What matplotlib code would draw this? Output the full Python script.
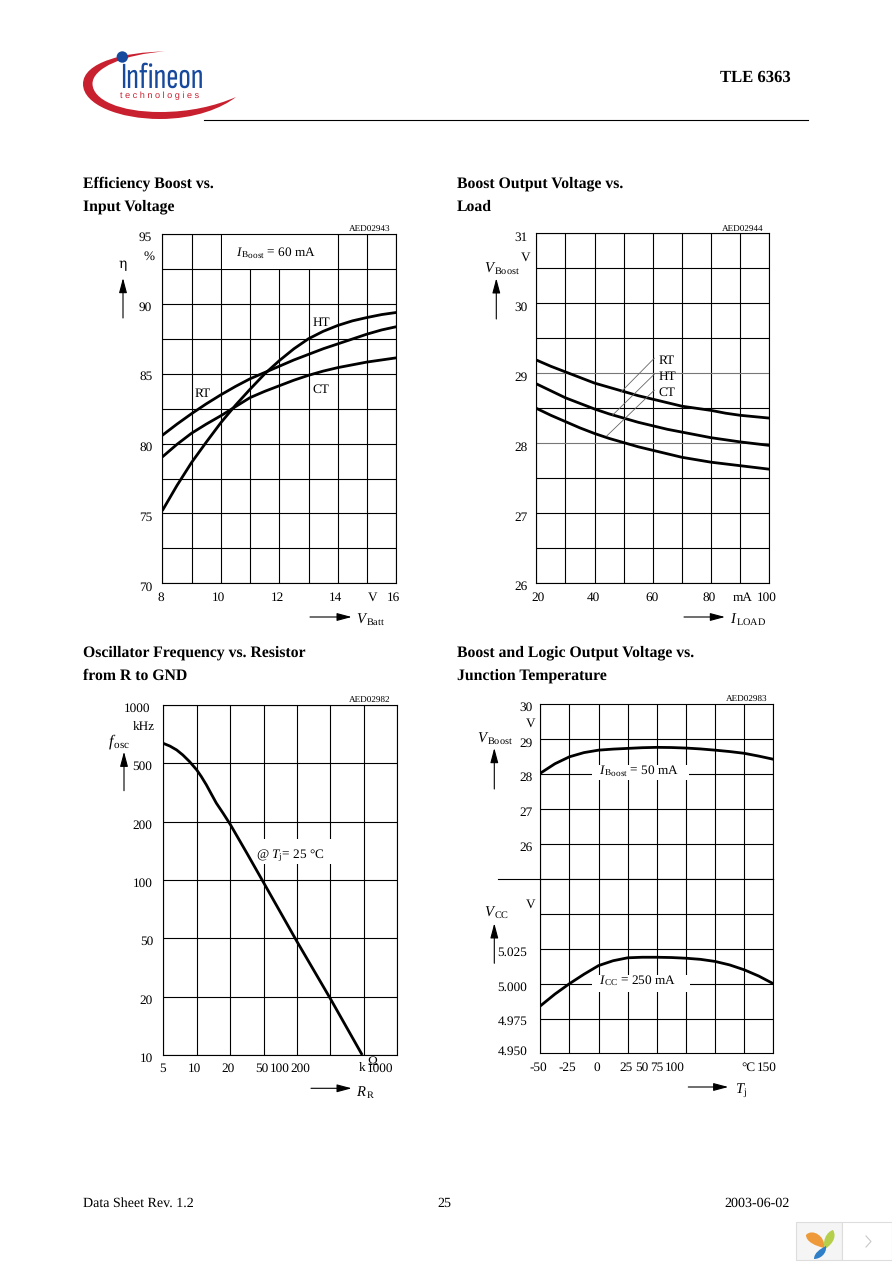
import numpy as np
import matplotlib
matplotlib.use("Agg")
import matplotlib.pyplot as plt
from matplotlib.path import Path
from matplotlib.patches import PathPatch, Rectangle, Circle

plt.rcParams['font.family'] = ['Liberation Serif', 'DejaVu Serif']
plt.rcParams['mathtext.fontset'] = 'custom'
plt.rcParams['mathtext.rm'] = 'Liberation Serif'
plt.rcParams['mathtext.it'] = 'Liberation Serif:italic'
plt.rcParams['mathtext.bf'] = 'Liberation Serif:bold'
plt.rcParams['text.hinting'] = 'no_hinting'

# efficiency vs input voltage
batt_v = [8, 8.5, 9, 9.5, 10, 10.5, 11, 11.5, 12, 12.5, 13, 13.5, 14, 14.5, 15, 15.5, 16]
eff_rt = [80.6, 81.4, 82.15, 82.85, 83.5, 84.1, 84.65, 85.1, 85.55, 86.0, 86.4, 86.8, 87.15, 87.5, 87.85, 88.15, 88.38]
eff_ct = [79.05, 79.95, 80.75, 81.4, 82.0, 82.65, 83.3, 83.75, 84.15, 84.55, 84.9, 85.2, 85.45, 85.65, 85.85, 86.0, 86.15]
eff_ht = [75.2, 77.0, 78.65, 80.1, 81.5, 82.75, 83.9, 85.0, 85.95, 86.8, 87.52, 88.05, 88.47, 88.8, 89.04, 89.25, 89.4]

# boost voltage vs load
load_ma = [20, 25, 30, 35, 40, 45, 50, 55, 60, 65, 70, 75, 80, 85, 90, 95, 100]
boost_rt = [29.19, 29.10, 29.02, 28.94, 28.86, 28.80, 28.74, 28.68, 28.63, 28.58, 28.53, 28.50, 28.47, 28.43, 28.40, 28.38, 28.36]
boost_ht = [28.85, 28.75, 28.65, 28.57, 28.49, 28.42, 28.36, 28.30, 28.25, 28.20, 28.16, 28.12, 28.08, 28.05, 28.02, 27.995, 27.97]
boost_ct = [28.5, 28.40, 28.31, 28.22, 28.14, 28.07, 28.01, 27.95, 27.9, 27.85, 27.8, 27.765, 27.73, 27.705, 27.68, 27.655, 27.63]

# oscillator frequency vs resistor
res_grid = [5, 10, 20, 50, 100, 200, 500, 1000]
freq_grid = [10, 20, 50, 100, 200, 500, 1000]
res_k = [5, 5.73, 6.6, 7.5, 8.6, 10, 11, 12.2, 13.5, 15, 17.3, 20, 31.5, 50, 100, 200, 478]
freq_khz = [634, 614, 586, 552, 511, 451, 406, 357, 310, 268, 228, 194, 138, 97, 47.5, 19.5, 10]

# output voltages vs temperature
temp_c = [-50, -37.5, -25, -12.5, 0, 12.5, 25, 37.5, 50, 62.5, 75, 87.5, 100, 112.5, 125, 137.5, 150]
vboost_t = [28.03, 28.3, 28.5, 28.62, 28.69, 28.72, 28.74, 28.76, 28.77, 28.765, 28.75, 28.725, 28.69, 28.65, 28.6, 28.52, 28.43]
vcc_t = [4.984, 4.9925, 5.0, 5.0068, 5.013, 5.0165, 5.0186, 5.019, 5.019, 5.0188, 5.0183, 5.0175, 5.016, 5.0135, 5.01, 5.0055, 5.0]

W, H = 892, 1263
fig = plt.figure(figsize=(W / 100, H / 100), dpi=100)
page = fig.add_axes([0, 0, 1, 1], zorder=5)
page.set_xlim(0, W)
page.set_ylim(H, 0)
page.axis('off')
page.patch.set_alpha(0)


def box(x0, y0, x1, y1):
    ax = fig.add_axes([x0 / W, 1 - y1 / H, (x1 - x0) / W, (y1 - y0) / H])
    ax.tick_params(length=0, labelbottom=False, labelleft=False, which='both')
    for s in ax.spines.values():
        s.set_linewidth(0.8)
    return ax


def grid(ax):
    ax.grid(True, color='black', lw=0.8, zorder=1)
    ax.set_axisbelow(True)


def mask(ax, x0, y0, x1, y1):
    ax.add_patch(Rectangle((x0, y0), x1 - x0, y1 - y0, transform=page.transData,
                           fc='white', ec='none', zorder=2))


def curve(ax, x, y):
    ax.plot(x, y, color='black', lw=2.0, zorder=3, solid_capstyle='butt')


def t(x, y, s, ha='center', size=9.5, **kw):
    page.text(x, y, s, ha=ha, va='center', fontsize=size, **kw)


def arrow(x0, y0, x1, y1):
    page.annotate('', xy=(x1, y1), xytext=(x0, y0),
                  arrowprops=dict(arrowstyle='-|>,head_length=9,head_width=2.4', color='black',
                                  lw=0.8, shrinkA=0, shrinkB=0, mutation_scale=1))


def ticks(xs, ys, labels, ha='center'):
    for x, y, s in zip(xs, ys, labels):
        t(x, y, s, ha=ha)


# chart 1
ax1 = box(162.3, 234.3, 396.3, 583.3)
ax1.set_xlim(8, 16)
ax1.set_ylim(70, 95)
ax1.set_xticks(np.arange(8, 17))
ax1.set_yticks(np.arange(70, 95.1, 2.5))
grid(ax1)
mask(ax1, 222, 235, 336.5, 269)
for vals in (eff_rt, eff_ct, eff_ht):
    curve(ax1, batt_v, vals)
ticks([152.3] * 6, [237.3, 307.3, 377, 447.7, 517.7, 587.7], ['95', '90', '85', '80', '75', '70'], ha='right')
t(155, 257, '%', ha='right')
ticks([161.3, 218.7, 277, 335, 373, 393.7], [597.7] * 6, ['8', '10', '12', '14', 'V', '16'])
t(236, 253, r'$\mathit{I}_{\,\mathrm{Boost}}$ = 60 mA', ha='left')
t(321.7, 322.7, 'HT')
t(202.7, 394.3, 'RT')
t(321, 389.7, 'CT')
t(122.7, 264, 'η', size=10, family=['DejaVu Serif'])
arrow(123, 318, 123, 278)
arrow(310, 617, 351.7, 617)
t(355.5, 619, r'$\mathit{V}_{\,\mathrm{Batt}}$', ha='left', size=10.5)
t(369.3, 229.3, 'AED02943', size=6.6)

# chart 2
ax2 = box(536.3, 233.3, 769.3, 583.3)
ax2.set_xlim(20, 100)
ax2.set_ylim(26, 31)
ax2.set_xticks(np.arange(20, 101, 10))
ax2.set_yticks(np.arange(26, 31.1, 0.5))
grid(ax2)
for tick_val, gl in zip(ax2.get_yticks(), ax2.get_ygridlines()):
    if tick_val in (28, 29):
        gl.set_color('#777777')
for vals in (boost_rt, boost_ht, boost_ct):
    curve(ax2, load_ma, vals)
ticks([527.3] * 6, [237.3, 307.3, 377.7, 447.7, 517.7, 587], ['31', '30', '29', '28', '27', '26'], ha='right')
t(525.7, 257.3, 'V')
ticks([537.7, 593.7, 651.7, 709.3, 742.3, 766.7], [597.7] * 6, ['20', '40', '60', '80', 'mA', '100'])
t(484, 267.7, r'$\mathit{V}_{\,\mathrm{Boost}}$', ha='left', size=10.5)
arrow(496.3, 319, 496.3, 278.3)
arrow(684, 617, 725, 617)
t(730, 619, r'$\mathit{I}_{\,\mathrm{LOAD}}$', ha='left', size=10.5)
for y, s, x_end, y_end in [(360.7, 'RT', 621, 392), (376.7, 'HT', 612.7, 415), (392.7, 'CT', 606.7, 436)]:
    t(658.7, y, s, ha='left')
    page.plot([654.3, x_end], [y - 2.5, y_end], color='#666666', lw=0.6)
t(743, 229.5, 'AED02944', size=6.6)

# chart 3, both axes run on the printed 1-2-5 steps, evenly spaced


def step_scale(steps):
    logs = np.log10(steps)
    pos = np.arange(len(steps))
    fwd = lambda v: np.interp(np.log10(np.maximum(v, 1e-6)), logs, pos)
    inv = lambda p: 10 ** np.interp(p, pos, logs)
    return fwd, inv


ax3 = box(163.3, 705, 397.3, 1055)
ax3.set_xscale('function', functions=step_scale(res_grid))
ax3.set_yscale('function', functions=step_scale(freq_grid))
ax3.set_xlim(5, 1000)
ax3.set_ylim(10, 1000)
ax3.set_xticks(res_grid)
ax3.set_yticks(freq_grid)
ax3.minorticks_off()
grid(ax3)
mask(ax3, 258, 838.5, 332, 863.5)
curve(ax3, res_k, freq_khz)
t(150, 708.3, '1000', ha='right')
t(144, 727, 'kHz')
ticks([152.3, 152.3, 152.3, 153, 153, 153], [766.7, 825.7, 883.7, 941.7, 1000.7, 1058.3],
      ['500', '200', '100', '50', '20', '10'], ha='right')
ticks([162.3, 194.7, 228.3, 261.7, 280, 300.3, 361.7, 380], [1068.3] * 8,
      ['5', '10', '20', '50', '100', '200', 'k', '1000'])
t(372, 1062.3, 'Ω')
t(108, 741.7, r'$\mathit{f}_{\,\mathrm{osc}}$', ha='left', size=11.5)
arrow(124, 790.7, 124, 751.7)
arrow(311, 1088.3, 351.7, 1088.3)
t(356.5, 1091.7, r'$\mathit{R}_{\,\mathrm{R}}$', ha='left', size=10.5)
t(255.7, 855.7, r'@ $\mathit{T}_{\mathrm{j}}$= 25 °C', ha='left')
t(370, 700.3, 'AED02982', size=6.6)

# chart 4, two stacked scales
ax4a = box(540.3, 704.3, 773.3, 879.3)
ax4b = box(540.3, 879.3, 773.3, 1053.3)
ax4a.set_ylim(25, 30)
ax4b.set_ylim(4.95, 5.075)
ax4a.set_yticks([26, 27, 28, 29])
ax4b.set_yticks([4.975, 5.0, 5.025, 5.05])
for ax in (ax4a, ax4b):
    ax.set_xlim(-50, 150)
    ax.set_xticks(np.arange(-50, 151, 25))
    grid(ax)
mask(ax4a, 591.7, 765, 688.5, 780)
mask(ax4b, 591.7, 975, 690, 992)
curve(ax4a, temp_c, vboost_t)
curve(ax4b, temp_c, vcc_t)
page.plot([498, 540.3], [879.3, 879.3], color='black', lw=0.8)
ticks([532.3] * 5, [707.3, 743.3, 777.3, 812.7, 847.7], ['30', '29', '28', '27', '26'], ha='right')
t(530.7, 724, 'V')
t(530.7, 904.3, 'V')
ticks([527.3] * 4, [952.7, 987.7, 1022, 1051.7], ['5.025', '5.000', '4.975', '4.950'], ha='right')
ticks([538.7, 567.3, 597.3, 626.5, 641.5, 656.7, 674.3, 748.3, 766.7], [1067.7] * 9,
      ['-50', '-25', '0', '25', '50', '75', '100', '°C', '150'])
t(477.3, 738.3, r'$\mathit{V}_{\,\mathrm{Boost}}$', ha='left', size=10.5)
arrow(494.3, 789, 494.3, 748)
t(484, 911.7, r'$\mathit{V}_{\,\mathrm{CC}}$', ha='left', size=10.5)
arrow(494.3, 963.3, 494.3, 923.3)
arrow(688.3, 1087, 728.3, 1087)
t(735, 1090, r'$\mathit{T}_{\mathrm{j}}$', ha='left', size=10.5)
t(599.3, 770.7, r'$\mathit{I}_{\,\mathrm{Boost}}$ = 50 mA', ha='left')
t(599.3, 981, r'$\mathit{I}_{\,\mathrm{CC}}$ = 250 mA', ha='left')
t(747, 699.7, 'AED02983', size=6.6)

# titles
for x, y, s in [(83, 183.5, 'Efficiency Boost vs.'), (83, 207, 'Input Voltage'),
                (457, 183.5, 'Boost Output Voltage vs.'), (457, 207, 'Load'),
                (83, 652.5, 'Oscillator Frequency vs. Resistor'), (83, 676, 'from R to GND'),
                (457, 652.5, 'Boost and Logic Output Voltage vs.'), (457, 676, 'Junction Temperature')]:
    t(x, y, s, ha='left', size=11.3, fontweight='bold')

# header and footer
t(791, 78, 'TLE 6363', ha='right', size=12, fontweight='bold')
page.plot([204, 808], [119.5, 119.5], color='black', lw=0.8)
t(83, 1203, 'Data Sheet Rev. 1.2', ha='left', size=10.1)
t(444, 1203, '25', size=10.1)
t(790, 1203, '2003-06-02', ha='right', size=10.1)

# logo
C4 = Path.CURVE4
swoosh = [(165, 51.5), (125, 52), (83, 62), (83, 84), (83, 105), (120, 119), (160, 119),
          (195, 119), (222, 108), (236, 97), (215, 106), (190, 112), (160, 112),
          (120, 112), (93, 100), (92.5, 84), (92, 68), (125, 54), (165, 51.5)]
page.add_patch(PathPatch(Path(swoosh, [Path.MOVETO] + [C4] * 18), fc='#c9202f', ec='none'))
page.add_patch(Circle((122.3, 57), 5.7, fc='#174a9c', ec='none'))
page.text(120, 79, 'Infineon', ha='left', va='center', fontsize=26.5, color='#174a9c', fontweight='bold',
          family=['Sofia Sans Extra Condensed', 'Roboto Condensed', 'Liberation Sans'])
page.text(120.5, 96, 't e c h n o l o g i e s', ha='left', va='center', fontsize=6.6, color='#c9202f',
          family=['Liberation Sans'])

# viewer widget, bottom right
page.add_patch(Rectangle((796, 1221.5), 46.3, 38.5, fc='#f5f5f5', ec='#dddddd', lw=0.8))
page.add_patch(Rectangle((842.3, 1221.5), 49.2, 38.5, fc='white', ec='#dddddd', lw=0.8))
page.plot([866, 871, 866], [1236, 1241.5, 1247], color='#c8c8c8', lw=0.8)
petals = [([(806, 1235), (812, 1228), (826, 1236), (824, 1248), (816, 1246), (806, 1242), (806, 1235)], '#ee9a3a'),
          ([(833, 1230), (838, 1238), (830, 1246), (825, 1249), (822, 1242), (826, 1232), (833, 1230)], '#b5cf4a'),
          ([(826, 1246), (827, 1254), (820, 1259), (814, 1259), (814, 1253), (820, 1249), (826, 1246)], '#2f7fc8')]
for verts, col in petals:
    page.add_patch(PathPatch(Path(verts, [Path.MOVETO] + [C4] * 6), fc=col, ec='none'))

fig.savefig('out.png', dpi=100, facecolor='white')
